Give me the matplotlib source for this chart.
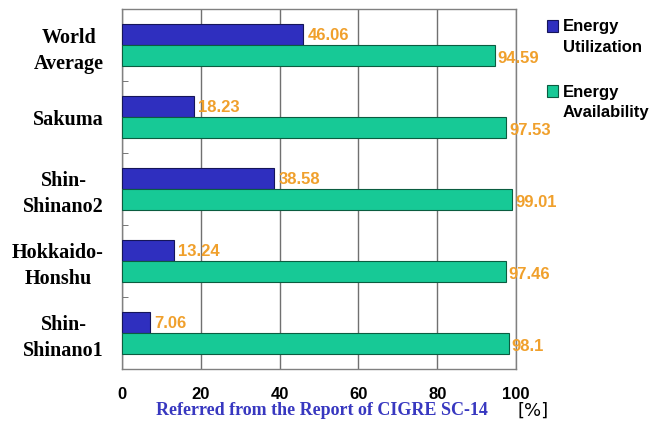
import numpy as np
import matplotlib
matplotlib.use("Agg")
import matplotlib.pyplot as plt
from matplotlib.patches import Rectangle

categories = ["World\nAverage", "Sakuma", "Shin-\nShinano2", "Hokkaido-\nHonshu", "Shin-\nShinano1"]
utilization = [46.06, 18.23, 38.58, 13.24, 7.06]
availability = [94.59, 97.53, 99.01, 97.46, 98.1]
x_ticks = [0, 20, 40, 60, 80, 100]
legend_labels = [("Energy", "Utilization"), ("Energy", "Availability")]

BLUE = "#2f2fbf"
GREEN = "#17c996"
ORANGE = "#f0a02c"
W, H = 653, 423

fig = plt.figure(figsize=(W / 100, H / 100), dpi=100)
ax = fig.add_axes([0.1868, 0.1277, 0.6034, 0.851])

y = np.arange(len(categories))
h = 0.29
ax.barh(y - h / 2, utilization, height=h, color=BLUE, edgecolor="#15155a", linewidth=0.8, zorder=3)
ax.barh(y + h / 2, availability, height=h, color=GREEN, edgecolor="#0b5c40", linewidth=0.8, zorder=3)

for yi, v in zip(y - h / 2, utilization):
    ax.annotate(f"{v:g}", (v, yi), xytext=(3, -1), textcoords="offset points",
                va="center", ha="left", color=ORANGE, fontsize=12, fontweight="bold",
                family="Liberation Sans", zorder=4)
for yi, v in zip(y + h / 2, availability):
    ax.annotate(f"{v:g}", (v, yi), xytext=(2, -2), textcoords="offset points",
                va="center", ha="left", color=ORANGE, fontsize=12, fontweight="bold",
                family="Liberation Sans", zorder=4)

ax.set_xlim(0, 100)
ax.set_ylim(len(categories) - 0.5, -0.5)
ax.set_xticks(x_ticks)
ax.set_xticklabels([str(t) for t in x_ticks], fontsize=12, fontweight="bold", family="Liberation Sans")
ax.tick_params(axis="x", length=0, pad=13)
ax.set_yticks(y)
ax.set_yticklabels(categories, fontsize=14.5, fontweight="bold", family="Liberation Serif",
                   ha="right", multialignment="center", linespacing=1.4)
ax.tick_params(axis="y", length=0, pad=13)
ax.set_yticks(np.arange(0.5, len(categories) - 0.5, 1), minor=True)
ax.tick_params(axis="y", which="minor", direction="in", length=4, color="#606060")

ax.grid(axis="x", color="#707070", linewidth=1, zorder=0)
for s in ax.spines.values():
    s.set_color("#808080")
    s.set_linewidth(1)

fig.text(0.493, 0.03, "Referred from the Report of CIGRE SC-14", ha="center", va="center",
         color="#3838c0", fontsize=13, fontweight="bold", family="Liberation Serif")
fig.text(0.793, 0.03, "[%]", ha="left", va="center", fontsize=13, family="DejaVu Sans")

# legend drawn by hand: square sits beside the first line of each label
for (line1, line2), color, edge, top in zip(legend_labels, [BLUE, GREEN], ["#15155a", "#0b5c40"], [20, 85]):
    fig.patches.append(Rectangle((547 / W, 1 - (top + 12) / H), 11 / W, 12 / H,
                                 facecolor=color, edgecolor=edge, linewidth=0.8,
                                 transform=fig.transFigure))
    fig.text(563 / W, 1 - (top + 7) / H, line1, ha="left", va="center", fontsize=12,
             fontweight="bold", family="Liberation Sans")
    fig.text(563 / W, 1 - (top + 27) / H, line2, ha="left", va="center", fontsize=12,
             fontweight="bold", family="Liberation Sans")

fig.savefig("out.png", dpi=100, facecolor="white")
